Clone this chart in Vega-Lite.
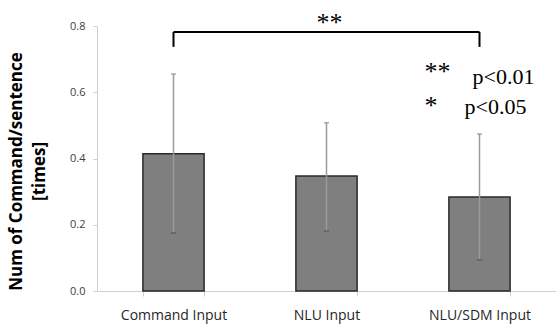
{
  "$schema": "https://vega.github.io/schema/vega-lite/v6.json",
  "width": 459,
  "height": 265,
  "autosize": "none",
  "padding": {"left": 97, "top": 26, "right": 0, "bottom": 35},
  "background": "white",
  "config": {"view": {"stroke": null}},
  "datasets": {
    "bars": [
      {"input": "Command Input", "mean": 0.414, "low": 0.175, "high": 0.655},
      {"input": "NLU Input", "mean": 0.347, "low": 0.181, "high": 0.508},
      {"input": "NLU/SDM Input", "mean": 0.284, "low": 0.094, "high": 0.474}
    ],
    "bracketTop": [{"from": "Command Input", "to": "NLU/SDM Input", "y": 0.782}],
    "bracketEnds": [
      {"input": "Command Input", "y": 0.737, "y2": 0.782},
      {"input": "NLU/SDM Input", "y": 0.737, "y2": 0.782}
    ],
    "sig": [{"input": "NLU Input", "y": 0.81, "label": "**"}],
    "stars": [
      {"input": "NLU/SDM Input", "y": 0.662, "label": "**"},
      {"input": "NLU/SDM Input", "y": 0.558, "label": "*"}
    ],
    "p1": [{"input": "NLU/SDM Input", "y": 0.647, "label": "p<0.01"}],
    "p2": [{"input": "NLU/SDM Input", "y": 0.556, "label": "p<0.05"}]
  },
  "encoding": {
    "x": {
      "field": "input",
      "type": "nominal",
      "sort": null,
      "scale": {"domain": ["Command Input", "NLU Input", "NLU/SDM Input"], "paddingInner": 0.6, "paddingOuter": 0.3},
      "axis": {
        "title": null,
        "labelAngle": 0,
        "labelFont": "Open Sans",
        "labelFontSize": 14,
        "labelColor": "#262626",
        "labelPadding": 12,
        "domainColor": "#d0d0d0",
        "tickColor": "#d0d0d0",
        "tickBand": "extent",
        "tickSize": 5
      }
    }
  },
  "layer": [
    {
      "data": {"name": "bars"},
      "mark": {"type": "bar", "fill": "#7f7f7f", "stroke": "#2a2a2a", "strokeWidth": 1.5},
      "encoding": {
        "y": {
          "field": "mean",
          "type": "quantitative",
          "scale": {"domain": [0, 0.8]},
          "axis": {
            "title": ["Num of Command/sentence", "[times]"],
            "titleFont": "Open Sans",
            "titleFontWeight": "bold",
            "titleFontSize": 17,
            "titleColor": "#000000",
            "titleLineHeight": 23,
            "titlePadding": 21,
            "titleY": 145,
            "values": [0, 0.2, 0.4, 0.6, 0.8],
            "format": ".1f",
            "labelFont": "Open Sans",
            "labelFontSize": 11,
            "labelColor": "#404040",
            "labelPadding": 8,
            "domainColor": "#d0d0d0",
            "tickColor": "#d0d0d0",
            "tickSize": 4,
            "grid": false
          }
        }
      }
    },
    {
      "data": {"name": "bars"},
      "mark": {"type": "rule", "color": "#9a9a9a", "strokeWidth": 1.5},
      "encoding": {
        "y": {"field": "low", "type": "quantitative"},
        "y2": {"field": "high"}
      }
    },
    {
      "data": {"name": "bars"},
      "mark": {"type": "tick", "color": "#8a8a8a", "size": 5, "thickness": 1.5, "orient": "horizontal"},
      "encoding": {"y": {"field": "high", "type": "quantitative"}}
    },
    {
      "data": {"name": "bars"},
      "mark": {"type": "tick", "color": "#505050", "size": 5, "thickness": 1.5, "orient": "horizontal"},
      "encoding": {"y": {"field": "low", "type": "quantitative"}}
    },
    {
      "data": {"name": "bracketTop"},
      "mark": {"type": "rule", "color": "#000000", "strokeWidth": 2},
      "encoding": {
        "x": {"field": "from", "type": "nominal", "sort": null},
        "x2": {"field": "to"},
        "y": {"field": "y", "type": "quantitative"}
      }
    },
    {
      "data": {"name": "bracketEnds"},
      "mark": {"type": "rule", "color": "#000000", "strokeWidth": 2},
      "encoding": {
        "y": {"field": "y", "type": "quantitative"},
        "y2": {"field": "y2"}
      }
    },
    {
      "data": {"name": "sig"},
      "mark": {"type": "text", "font": "Liberation Serif", "fontSize": 26, "color": "#000000", "align": "center", "baseline": "middle", "dx": 3},
      "encoding": {
        "y": {"field": "y", "type": "quantitative"},
        "text": {"field": "label"}
      }
    },
    {
      "data": {"name": "stars"},
      "mark": {"type": "text", "font": "Liberation Serif", "fontSize": 26, "color": "#000000", "align": "left", "baseline": "middle", "dx": -55},
      "encoding": {
        "y": {"field": "y", "type": "quantitative"},
        "text": {"field": "label"}
      }
    },
    {
      "data": {"name": "p1"},
      "mark": {"type": "text", "font": "Liberation Serif", "fontSize": 22, "color": "#000000", "align": "left", "baseline": "middle", "dx": -7},
      "encoding": {
        "y": {"field": "y", "type": "quantitative"},
        "text": {"field": "label"}
      }
    },
    {
      "data": {"name": "p2"},
      "mark": {"type": "text", "font": "Liberation Serif", "fontSize": 22, "color": "#000000", "align": "left", "baseline": "middle", "dx": -15},
      "encoding": {
        "y": {"field": "y", "type": "quantitative"},
        "text": {"field": "label"}
      }
    }
  ]
}
